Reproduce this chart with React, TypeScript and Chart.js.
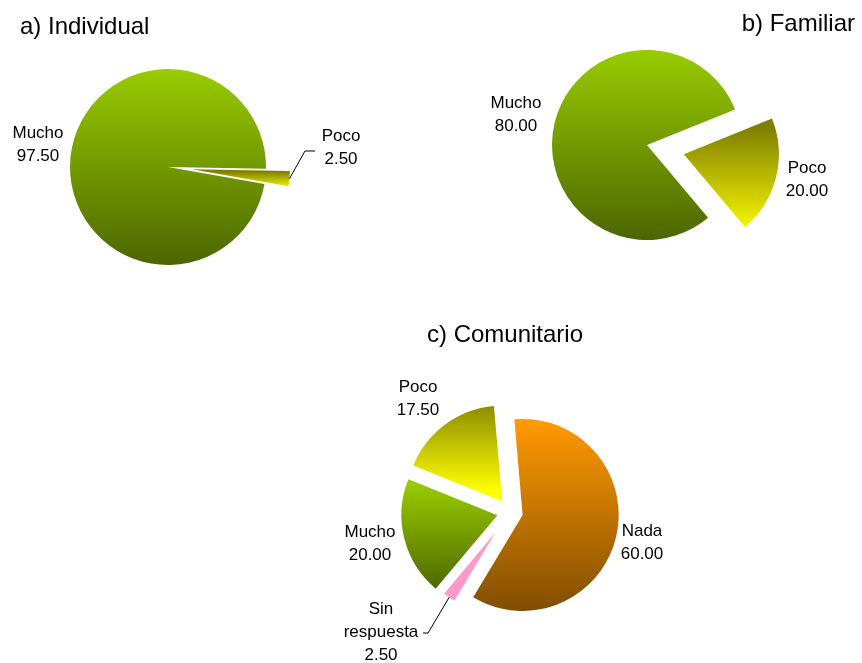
import React, { useEffect, useRef } from 'react';
import { Chart, registerables } from 'chart.js';

Chart.register(...registerables);

// ---------------- DATA ----------------
const TITLES = ['a) Individual', 'b) Familiar', 'c) Comunitario'];

const A_CATEGORIES = ['Poco', 'Mucho'];
const A_VALUES = [2.5, 97.5];

const B_CATEGORIES = ['Poco', 'Mucho'];
const B_VALUES = [20.0, 80.0];

const C_CATEGORIES = ['Nada', 'Sin respuesta', 'Mucho', 'Poco'];
const C_VALUES = [60.0, 2.5, 20.0, 17.5];

// ---------------- STYLE / LAYOUT ----------------
const W = 862;
const H = 663;
const FONT = '"Liberation Sans", Arial, Helvetica, sans-serif';

const COLORS: Record<string, [string, string]> = {
  Mucho: ['#99CC00', '#4C6600'],
  Poco: ['#808000', '#FFFF00'],
  Nada: ['#FF9900', '#7F4C00'],
  'Sin respuesta': ['#FF99CC', '#FF99CC'],
};

type Pie = {
  title: string;
  titlePos: [number, number];
  titleAlign: CanvasTextAlign;
  categories: string[];
  values: number[];
  cx: number;
  cy: number;
  radius: number;
  rotation: number;
  explode: number[];
  radiusScale: number[];
  labelPos: [number, number][];
  leaders: { index: number; elbow: [number, number]; end: [number, number] }[];
};

const PIES: Pie[] = [
  {
    title: TITLES[0],
    titlePos: [20, 27],
    titleAlign: 'left',
    categories: A_CATEGORIES,
    values: A_VALUES,
    cx: 168,
    cy: 167,
    radius: 98,
    rotation: 91,
    explode: [24, 0],
    radiusScale: [1, 1],
    labelPos: [[341, 136], [38, 133]],
    leaders: [{ index: 0, elbow: [305, 151], end: [315, 151] }],
  },
  {
    title: TITLES[1],
    titlePos: [855, 24],
    titleAlign: 'right',
    categories: B_CATEGORIES,
    values: B_VALUES,
    cx: 647,
    cy: 145,
    radius: 95,
    rotation: 68,
    explode: [38, 0],
    radiusScale: [1, 1],
    labelPos: [[807, 168], [516, 103]],
    leaders: [],
  },
  {
    title: TITLES[2],
    titlePos: [505, 335],
    titleAlign: 'center',
    categories: C_CATEGORIES,
    values: C_VALUES,
    cx: 510,
    cy: 512,
    radius: 96,
    rotation: -5,
    explode: [13, 25, 13, 13],
    radiusScale: [1, 0.83, 1, 1],
    labelPos: [[642, 531], [381, 609], [370, 532], [418, 387]],
    leaders: [{ index: 1, elbow: [428, 633], end: [423, 633] }],
  },
];

const LINE_H = 23;

function sliceAngles(pie: Pie, i: number): [number, number] {
  const total = pie.values.reduce((s, v) => s + v, 0);
  let a0 = ((pie.rotation - 90) * Math.PI) / 180;
  for (let k = 0; k < i; k++) a0 += (pie.values[k] / total) * Math.PI * 2;
  const a1 = a0 + (pie.values[i] / total) * Math.PI * 2;
  return [a0, a1];
}

function sliceFill(c: any, pie: Pie) {
  const i = c.dataIndex;
  const [top, bottom] = COLORS[pie.categories[i]] || ['#999', '#666'];
  const chart = c.chart;
  const area = chart.chartArea;
  if (!area || top === bottom) return top;
  const cy = (area.top + area.bottom) / 2;
  const [a0, a1] = sliceAngles(pie, i);
  const mid = (a0 + a1) / 2;
  const T = pie.explode[i];
  const R = pie.radius * pie.radiusScale[i];
  const ay = cy + T * Math.sin(mid);
  const ys = [ay, ay + R * Math.sin(a0), ay + R * Math.sin(a1)];
  for (let k = -4; k <= 6; k++) {
    const q = Math.PI / 2 + k * Math.PI;
    if (q > a0 && q < a1) ys.push(ay + R * Math.sin(q));
  }
  const y0 = Math.min(...ys);
  const y1 = Math.max(...ys);
  const g = chart.ctx.createLinearGradient(0, y0, 0, y1);
  g.addColorStop(0, top);
  g.addColorStop(1, bottom);
  return g;
}

function makePlugins(pie: Pie) {
  // Keep exploded slices at their true radius and angular width
  const sliceFix = {
    id: 'sliceFix',
    beforeDatasetDraw(chart: any) {
      const meta = chart.getDatasetMeta(0);
      meta.data.forEach((arc: any, i: number) => {
        const T = (arc.options.offset || 0) / 4;
        const [a0, a1] = sliceAngles(pie, i);
        const fix = 1 - Math.sin(Math.min(Math.PI, a1 - a0));
        const R = pie.radius * pie.radiusScale[i];
        const rOff = T * fix;
        arc.outerRadius = R - rOff;
        const widen = rOff / (Math.PI * R) / 2;
        arc.startAngle = a0 - widen;
        arc.endAngle = a1 + widen;
      });
    },
  };
  const texts = {
    id: 'texts',
    afterDraw(chart: any) {
      const ctx: CanvasRenderingContext2D = chart.ctx;
      ctx.save();
      ctx.fillStyle = '#000';
      ctx.textBaseline = 'middle';
      ctx.font = `24px ${FONT}`;
      ctx.textAlign = pie.titleAlign;
      ctx.fillText(pie.title, pie.titlePos[0], pie.titlePos[1]);

      ctx.font = `17px ${FONT}`;
      ctx.textAlign = 'center';
      pie.categories.forEach((cat, i) => {
        const lines = cat.split(' ').concat([pie.values[i].toFixed(2)]);
        const [x, y] = pie.labelPos[i];
        lines.forEach((ln, k) => ctx.fillText(ln, x, y + k * LINE_H));
      });

      const meta = chart.getDatasetMeta(0);
      ctx.strokeStyle = '#000';
      ctx.lineWidth = 1;
      pie.leaders.forEach((ld) => {
        const arc = meta.data[ld.index];
        const T = (arc.options.offset || 0) / 4;
        const R = pie.radius * pie.radiusScale[ld.index];
        const [a0, a1] = sliceAngles(pie, ld.index);
        const mid = (a0 + a1) / 2;
        const sx = arc.x + Math.cos(mid) * (T + R);
        const sy = arc.y + Math.sin(mid) * (T + R);
        ctx.beginPath();
        ctx.moveTo(sx, sy);
        ctx.lineTo(ld.elbow[0], ld.elbow[1]);
        ctx.lineTo(ld.end[0], ld.end[1]);
        ctx.stroke();
      });
      ctx.restore();
    },
  };
  return [sliceFix, texts];
}

function PieCanvas({ pie }: { pie: Pie }) {
  const ref = useRef<HTMLCanvasElement>(null);
  useEffect(() => {
    const canvas = ref.current;
    if (!canvas) return;
    const s = pie.radius + 40;
    const chart = new Chart(canvas, {
      type: 'pie',
      data: {
        labels: pie.categories,
        datasets: [
          {
            data: pie.values,
            backgroundColor: (c: any) => sliceFill(c, pie),
            borderWidth: 0,
            offset: pie.explode.map((t) => t * 4),
            rotation: pie.rotation,
            radius: pie.radius,
          } as any,
        ],
      },
      options: {
        responsive: false,
        animation: false,
        devicePixelRatio: 1,
        events: [],
        rotation: pie.rotation,
        radius: pie.radius,
        layout: {
          padding: {
            left: pie.cx - s,
            right: W - pie.cx - s,
            top: pie.cy - s,
            bottom: H - pie.cy - s,
          },
        },
        plugins: {
          legend: { display: false },
          tooltip: { enabled: false },
          title: { display: false },
        },
      } as any,
      plugins: makePlugins(pie),
    });
    return () => chart.destroy();
  }, [pie]);
  return (
    <canvas
      ref={ref}
      width={W}
      height={H}
      style={{ position: 'absolute', left: 0, top: 0, width: W, height: H }}
    />
  );
}

export default function App() {
  return (
    <div
      style={{
        position: 'absolute',
        left: 0,
        top: 0,
        width: W,
        height: H,
        background: '#fff',
        overflow: 'hidden',
      }}
    >
      {PIES.map((p, i) => (
        <PieCanvas key={i} pie={p} />
      ))}
    </div>
  );
}
